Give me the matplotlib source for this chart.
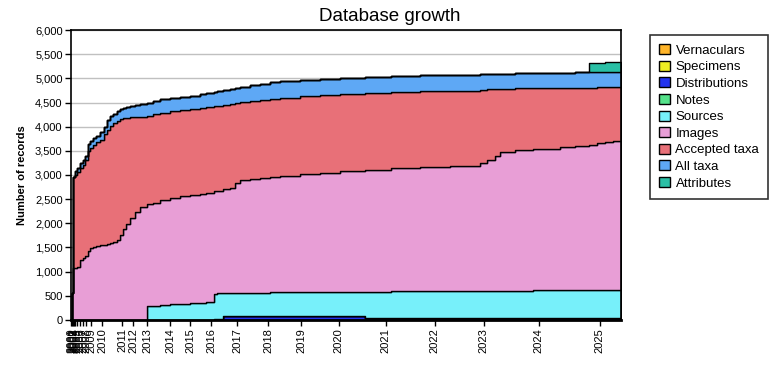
import numpy as np
import matplotlib
matplotlib.use("Agg")
import matplotlib.pyplot as plt
from matplotlib.patches import Patch

plt.rcParams['font.family'] = ['Liberation Sans', 'DejaVu Sans']

# x = snapshot position along the (non-linear) time axis
snapshot = [0, 1, 2, 4, 6, 9, 12, 14, 17, 19, 22, 25, 29, 33, 36, 39, 42, 46, 49, 52,
            55, 59, 64, 69, 76, 82, 89, 99, 109, 119, 129, 135, 143, 146, 152, 159, 164,
            169, 179, 189, 199, 209, 229, 249, 269, 294, 320, 349, 379, 409, 416, 424,
            429, 444, 462, 489, 504, 518, 526, 534, 542, 550]

vernaculars = [0] * 62
specimens = [0] * 62
notes = [0] * 62
distributions = [0] * 32 + [30, 30] + [90] * 11 + [40] * 17
sources = [0] * 24 + [290, 290, 300, 330, 340, 350, 360, 370, 510, 530] + [470] * 6 + \
          [480] + [490] * 4 + [540] + [560] * 8 + [580] * 8
images = [0, 560, 1080, 1080, 1100, 1240, 1290, 1320, 1420, 1480, 1510, 1530, 1550, 1560,
          1580, 1590, 1610, 1650, 1750, 1880, 1990, 2110, 2230, 2340,
          2110, 2130, 2180, 2200, 2220, 2230, 2250, 2260,
          2120, 2110, 2140, 2170, 2270, 2340, 2360, 2380, 2390, 2400,
          2440, 2470, 2500, 2530,
          2540, 2560, 2590, 2650, 2720, 2800, 2880, 2920,
          2920, 2960, 2980, 3000, 3040, 3060, 3080, 3080]
accepted = [0, 0, 1870, 1920, 1960, 1900, 1910, 1990, 2070, 2080, 2120, 2150, 2170, 2290,
            2350, 2430, 2470, 2470, 2410, 2290, 2190, 2080, 1970, 1860,
            1820, 1840, 1810, 1790, 1790, 1790, 1780, 1770,
            1760, 1760, 1750, 1740, 1660, 1610, 1610, 1610, 1620, 1620,
            1620, 1610, 1600, 1590,
            1575, 1570, 1555, 1510, 1450, 1375, 1300, 1270,
            1255, 1220, 1205, 1190, 1155, 1140, 1120, 1120]
all_taxa = [0, 0, 0, 80, 90, 110, 100, 90, 160, 140, 130, 120, 170, 150, 210, 200, 180,
            210, 210, 220, 220, 230, 240, 260,
            280, 280, 280, 280, 270, 270, 280, 290,
            300, 300, 310, 310, 310, 320, 330, 330, 340, 350,
            320, 320, 320, 320,
            325, 330, 325, 320, 320, 320, 320, 320,
            320, 320, 320, 320, 315, 310, 310, 310]
attributes = [0] * 57 + [190, 190, 200, 210, 210]

year_labels = ['2000', '2001', '2002', '2003', '2004', '2005', '2006', '2007', '2008',
               '2009', '2010', '2011', '2012', '2013', '2014', '2015', '2016', '2017',
               '2018', '2019', '2020', '2021', '2022', '2023', '2024', '2025']
year_pos = [0, 1, 2, 3, 4, 6, 9, 12, 15, 20, 31, 51, 62, 76, 99, 119, 140, 166, 197,
            230, 268, 315, 364, 413, 468, 529]

names = ['Vernaculars', 'Specimens', 'Distributions', 'Notes', 'Sources', 'Images',
         'Accepted taxa', 'All taxa', 'Attributes']
colors = ['#FFB52A', '#EEEE22', '#2233EE', '#55E28A', '#77F0FA', '#E89ED6',
          '#E87078', '#5EA8F5', '#2ABFA5']
series = [vernaculars, specimens, distributions, notes, sources, images,
          accepted, all_taxa, attributes]

fig = plt.figure(figsize=(7.8, 3.8), dpi=100)
ax = fig.add_axes([0.091, 0.158, 0.705, 0.763])

ax.stackplot(snapshot, *series, colors=colors, step='post',
             edgecolor='black', linewidth=1.0, zorder=2)

ax.set_xlim(0, 550)
ax.set_ylim(0, 6000)
ax.set_yticks(np.arange(0, 6001, 500))
ax.set_yticklabels([f'{v:,}' for v in range(0, 6001, 500)], fontsize=8)
ax.yaxis.grid(True, color='#C0C0C0', linewidth=1, zorder=0)
ax.set_axisbelow(True)
ax.set_xticks(year_pos)
ax.set_xticklabels(year_labels, rotation=90, fontsize=8)
ax.tick_params(length=4, width=1, color='black', pad=2)
for s in ax.spines.values():
    s.set_linewidth(1.2)
ax.spines['bottom'].set_linewidth(2)
ax.set_ylabel('Number of records', fontsize=8, fontweight='bold', labelpad=6)

fig.suptitle('Database growth', x=0.5, y=0.98, fontsize=13.5)

handles = [Patch(facecolor=c, edgecolor='black', linewidth=1) for c in colors]
leg = fig.legend(handles, names, loc='upper left', bbox_to_anchor=(0.833, 0.908),
                 fontsize=9.5, frameon=True, fancybox=False, edgecolor='black',
                 handlelength=0.8, handleheight=0.8, handletextpad=0.45,
                 labelspacing=0.3, borderpad=0.7, borderaxespad=0)
leg.get_frame().set_linewidth(1.2)

fig.savefig('out.png', dpi=100)
